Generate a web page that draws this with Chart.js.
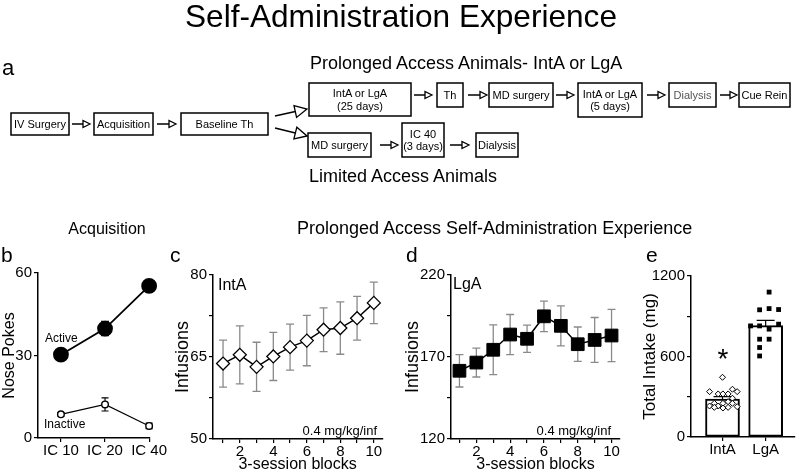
<!DOCTYPE html>
<html><head><meta charset="utf-8">
<script src="https://cdn.jsdelivr.net/npm/chart.js@4/dist/chart.umd.min.js"></script>
<style>
html,body{margin:0;padding:0;background:#fff;}
#root{position:relative;width:800px;height:473px;overflow:hidden;background:#fff;}
canvas{position:absolute;}
#ov{position:absolute;left:0;top:0;pointer-events:none;}
</style></head><body>
<div id="root">
<canvas id="cb" width="172" height="211" style="left:0px;top:262px"></canvas>
<canvas id="cc" width="218" height="211" style="left:172px;top:262px"></canvas>
<canvas id="cd" width="240" height="211" style="left:390px;top:262px"></canvas>
<canvas id="ce" width="170" height="211" style="left:630px;top:262px"></canvas>
<svg id="ov" width="800" height="473" xmlns="http://www.w3.org/2000/svg"></svg>
</div>
<script>
// ---------------- DATA ----------------
const acqLabels = ['IC 10', 'IC 20', 'IC 40'];
const acqActive = [30.3, 39.8, 55.3];
const acqActiveSem = [2.0, 2.6, 1.0];
const acqInactive = [8.6, 12.2, 4.4];
const acqInactiveSem = [0.7, 2.4, 1.0];
const acqYTicks = [0, 30, 60];

const blocks = [1, 2, 3, 4, 5, 6, 7, 8, 9, 10];
const blockTickLabels = [2, 4, 6, 8, 10];
const intaInfusions = [63.8, 65.4, 63.2, 65.1, 66.8, 68.0, 70.0, 70.3, 72.1, 74.9];
const intaSem = [4.3, 5.3, 4.5, 4.4, 4.2, 4.6, 4.0, 4.8, 4.0, 3.8];
const intaYTicks = [50, 65, 80];
const lgaInfusions = [161.6, 166.6, 174.4, 183.7, 181.1, 194.8, 189.0, 177.8, 180.4, 183.1];
const lgaSem = [9.9, 8.8, 15.2, 12.2, 8.3, 9.3, 12.2, 10.5, 13.7, 15.9];
const lgaYTicks = [120, 170, 220];

const intakeGroups = ['IntA', 'LgA'];
const intakeMean = [283, 830];
const intakeSem = [18, 40];
const intakeYTicks = [0, 600, 1200];
const intaIndiv = [445, 338, 321, 321, 321, 356, 338, 289, 231, 251, 231, 251, 263, 221, 251, 226, 221, 216];
const intaIndivJitter = [0.0, -0.30, -0.10, 0.01, 0.13, 0.23, 0.34, 0.23, -0.30, -0.19, -0.10, 0.01, 0.13, 0.13, 0.23, 0.34, -0.19, 0.01];
const lgaIndiv = [1080, 948, 957, 950, 828, 828, 804, 841, 729, 729, 667, 604];
const lgaIndivJitter = [0.08, -0.14, 0.08, 0.30, -0.35, -0.14, 0.08, 0.30, -0.14, 0.08, -0.14, -0.14];

// ---------------- HELPERS ----------------
Chart.defaults.font.family = '"Liberation Sans", Arial, sans-serif';
Chart.defaults.color = '#000';
Chart.defaults.animation = false;
Chart.defaults.plugins.legend.display = false;
Chart.defaults.plugins.tooltip.enabled = false;

const errorBars = {
  id: 'errorBars',
  beforeDatasetsDraw(chart) {
    const ctx = chart.ctx;
    chart.data.datasets.forEach((ds, i) => {
      if (!ds.errors) return;
      const meta = chart.getDatasetMeta(i);
      const ys = chart.scales[meta.yAxisID || 'y'];
      ctx.save();
      ctx.strokeStyle = ds.errorColor || '#000';
      ctx.lineWidth = ds.errorWidth || 1;
      meta.data.forEach((el, j) => {
        const raw = ds.data[j];
        const v = (typeof raw === 'object') ? raw.y : raw;
        const e = ds.errors[j];
        if (e == null) return;
        const x = el.x;
        const y1 = ys.getPixelForValue(v + e), y2 = ys.getPixelForValue(v - e);
        const c = ds.errorCap || 4;
        ctx.beginPath();
        ctx.moveTo(x, y1); ctx.lineTo(x, y2);
        ctx.moveTo(x - c, y1); ctx.lineTo(x + c, y1);
        ctx.moveTo(x - c, y2); ctx.lineTo(x + c, y2);
        ctx.stroke();
      });
      ctx.restore();
    });
  }
};

function yAxis(min, max, step, labels, width, title, titleSize, titlePad) {
  return {
    type: 'linear', min, max,
    afterBuildTicks: s => { const t = []; for (let v = min; v <= max + 1e-9; v += step) t.push({ value: v }); s.ticks = t; },
    afterFit: s => { s.width = width; },
    ticks: { callback: v => labels.includes(v) ? String(v) : '', font: { size: 15 }, color: '#000', padding: 2, autoSkip: false },
    grid: { drawOnChartArea: false, drawTicks: true, tickLength: 4, color: '#000', lineWidth: 1.2 },
    border: { display: true, color: '#000', width: 1.5 },
    title: { display: true, text: title, font: { size: titleSize }, color: '#000', padding: { top: titlePad, bottom: 0 } }
  };
}
function xAxis(min, max, tickVals, labelFn, height, title) {
  return {
    type: 'linear', min, max, offset: false,
    afterBuildTicks: s => { s.ticks = tickVals.map(v => ({ value: v })); },
    afterFit: s => { s.height = height; },
    ticks: { callback: labelFn, font: { size: 15 }, color: '#000', padding: 0, autoSkip: false, maxRotation: 0, minRotation: 0 },
    grid: { offset: false, drawOnChartArea: false, drawTicks: true, tickLength: 4, color: '#000', lineWidth: 1.2 },
    border: { display: true, color: '#000', width: 1.5 },
    title: { display: !!title, text: title || '', font: { size: 16 }, color: '#000', padding: { top: 0, bottom: -1 } }
  };
}
const pts = (xs, ys) => ys.map((y, i) => ({ x: xs[i], y }));

// ---------------- PANEL b ----------------
new Chart(document.getElementById('cb'), {
  type: 'line',
  data: { datasets: [
    { data: pts([0, 1, 2], acqActive), errors: acqActiveSem, errorCap: 4, errorWidth: 1.3,
      borderColor: '#000', borderWidth: 1.8, pointRadius: 7, pointBackgroundColor: '#000', pointBorderColor: '#000', tension: 0, clip: false },
    { data: pts([0, 1, 2], acqInactive), errors: acqInactiveSem, errorCap: 3.5, errorWidth: 1.1,
      borderColor: '#000', borderWidth: 1.1, pointRadius: 3.3, pointBorderWidth: 1.4, pointBackgroundColor: '#fff', pointBorderColor: '#000', tension: 0, clip: false }
  ] },
  options: {
    responsive: false,
    layout: { padding: { left: 0, top: 11, right: 22, bottom: 0 } },
    scales: {
      x: xAxis(-0.52, 2.02, [0, 1, 2], v => acqLabels[v] || '', 35, ''),
      y: yAxis(0, 60, 30, acqYTicks, 38, 'Nose Pokes', 16, 0)
    }
  },
  plugins: [errorBars]
});

// ---------------- PANEL c ----------------
new Chart(document.getElementById('cc'), {
  type: 'line',
  data: { datasets: [
    { data: pts(blocks, intaInfusions), errors: intaSem, errorColor: '#8a8a8a', errorCap: 4, errorWidth: 1.3,
      borderColor: '#000', borderWidth: 1.5, pointStyle: 'rectRot', pointRadius: 6.5, pointBorderWidth: 1.3,
      pointBackgroundColor: '#fff', pointBorderColor: '#000', tension: 0, clip: false }
  ] },
  options: {
    responsive: false,
    layout: { padding: { left: 0, top: 13, right: 2, bottom: 0 } },
    scales: {
      x: xAxis(0.4, 10.5, blocks, v => blockTickLabels.includes(v) ? String(v) : '', 34, '3-session blocks'),
      y: yAxis(50, 80, 7.5, intaYTicks, 41, 'Infusions', 18, 0)
    }
  },
  plugins: [errorBars]
});

// ---------------- PANEL d ----------------
new Chart(document.getElementById('cd'), {
  type: 'line',
  data: { datasets: [
    { data: pts(blocks, lgaInfusions), errors: lgaSem, errorColor: '#8a8a8a', errorCap: 4, errorWidth: 1.3,
      borderColor: '#000', borderWidth: 1.5, pointStyle: 'rect', pointRadius: 9, pointBorderWidth: 1,
      pointBackgroundColor: '#000', pointBorderColor: '#000', tension: 0, clip: false }
  ] },
  options: {
    responsive: false,
    layout: { padding: { left: 0, top: 13, right: 5, bottom: 0 } },
    scales: {
      x: xAxis(0.5, 10.5, blocks, v => blockTickLabels.includes(v) ? String(v) : '', 34, '3-session blocks'),
      y: yAxis(120, 220, 25, lgaYTicks, 61, 'Infusions', 18, 12)
    }
  },
  plugins: [errorBars]
});

// ---------------- PANEL e ----------------
new Chart(document.getElementById('ce'), {
  type: 'bar',
  data: { datasets: [
    { type: 'scatter', order: 0, data: pts(intaIndivJitter, intaIndiv), pointStyle: 'rectRot', pointRadius: 3, pointBorderWidth: 1,
      pointBackgroundColor: '#fff', pointBorderColor: '#000', clip: false },
    { type: 'scatter', order: 0, data: pts(lgaIndivJitter.map(j => 1 + j), lgaIndiv), pointStyle: 'rect', pointRadius: 3.4, pointBorderWidth: 0,
      pointBackgroundColor: '#000', pointBorderColor: '#000', clip: false },
    { type: 'bar', order: 1, data: pts([0, 1], intakeMean), errors: intakeSem, errorCap: 9, errorWidth: 1.2,
      backgroundColor: '#fff', borderColor: '#000', borderWidth: 2, barThickness: 34, borderSkipped: false }
  ] },
  options: {
    responsive: false,
    layout: { padding: { left: 0, top: 14, right: 3, bottom: 0 } },
    scales: {
      x: xAxis(-0.73, 1.68, [0, 1], v => intakeGroups[v] || '', 36, ''),
      y: yAxis(0, 1200, 300, intakeYTicks, 61, 'Total Intake (mg)', 17, 10)
    }
  },
  plugins: [errorBars]
});

// ---------------- OVERLAY: flow diagram and texts ----------------
const NS = 'http://www.w3.org/2000/svg';
const ov = document.getElementById('ov');
function el(tag, attrs, text) {
  const e = document.createElementNS(NS, tag);
  for (const k in attrs) e.setAttribute(k, attrs[k]);
  if (text != null) e.textContent = text;
  ov.appendChild(e);
  return e;
}
const FF = '"Liberation Sans", Arial, sans-serif';
function txt(x, y, s, size, anchor, color) {
  el('text', { x, y, 'font-family': FF, 'font-size': size, 'text-anchor': anchor || 'start', fill: color || '#000' }, s);
}
const boxes = [
  [11, 113, 69, 135, ['IV Surgery']],
  [94, 113, 153, 135, ['Acquisition']],
  [181, 113, 268, 135, ['Baseline Th']],
  [309, 83, 411, 116, ['IntA or LgA', '(25 days)']],
  [437, 83, 463, 107, ['Th']],
  [489, 83, 553, 107, ['MD surgery']],
  [578, 83, 642, 117, ['IntA or LgA', '(5 days)']],
  [669, 83, 716, 107, ['Dialysis'], '#555'],
  [739, 83, 790, 107, ['Cue Rein']],
  [308, 133, 371, 157, ['MD surgery']],
  [402, 123, 444, 157, ['IC 40', '(3 days)']],
  [476, 133, 518, 157, ['Dialysis']]
];
boxes.forEach(([x1, y1, x2, y2, lines, col]) => {
  el('rect', { x: x1, y: y1, width: x2 - x1, height: y2 - y1, fill: '#fff', stroke: '#000', 'stroke-width': 1.5 });
  const cx = (x1 + x2) / 2, cy = (y1 + y2) / 2;
  const lh = 12.5;
  lines.forEach((s, i) => {
    const y = cy + (i - (lines.length - 1) / 2) * lh + 4;
    txt(cx, y, s, 11, 'middle', col);
  });
});
const arrows = [
  [72, 124, 90, 124, 7, 3.5], [157, 124, 176, 124, 7, 3.5],
  [414, 95, 432, 95, 7, 3.5], [468, 95, 487, 95, 7, 3.5], [556, 95, 574, 95, 7, 3.5],
  [647, 95, 665, 95, 7, 3.5], [720, 95, 737, 95, 7, 3.5],
  [380, 145, 398, 145, 7, 3.5], [450, 145, 469, 145, 7, 3.5],
  [275, 116, 307, 109, 12, 6], [275, 128, 307, 136, 12, 6]
];
arrows.forEach(([x1, y1, x2, y2, hl, hw]) => {
  const dx = x2 - x1, dy = y2 - y1, L = Math.hypot(dx, dy), ux = dx / L, uy = dy / L;
  const bx = x2 - ux * hl, by = y2 - uy * hl;
  el('line', { x1, y1, x2: bx, y2: by, stroke: '#000', 'stroke-width': 1.5 });
  const p = [[x2, y2], [bx - uy * hw, by + ux * hw], [bx + uy * hw, by - ux * hw]].map(q => q.join(',')).join(' ');
  el('polygon', { points: p, fill: '#fff', stroke: '#000', 'stroke-width': 1.3 });
});

txt(401, 27, 'Self-Administration Experience', 31.6, 'middle');
txt(2, 75, 'a', 22);
txt(310, 69, 'Prolonged Access Animals- IntA or LgA', 18);
txt(309, 182, 'Limited Access Animals', 18);
txt(107, 234, 'Acquisition', 16, 'middle');
txt(297, 234, 'Prolonged Access Self-Administration Experience', 18);
txt(1, 262, 'b', 21);
txt(170, 262, 'c', 21);
txt(406, 262, 'd', 21);
txt(646, 262, 'e', 21);
// in-plot annotations
txt(45, 342, 'Active', 12);
txt(44, 428, 'Inactive', 12);
txt(218, 290, 'IntA', 16);
txt(377, 435, '0.4 mg/kg/inf', 13, 'end');
txt(453, 289, 'LgA', 16);
txt(611, 435, '0.4 mg/kg/inf', 13, 'end');
txt(723, 368, '*', 28, 'middle');
</script>
</body></html>
